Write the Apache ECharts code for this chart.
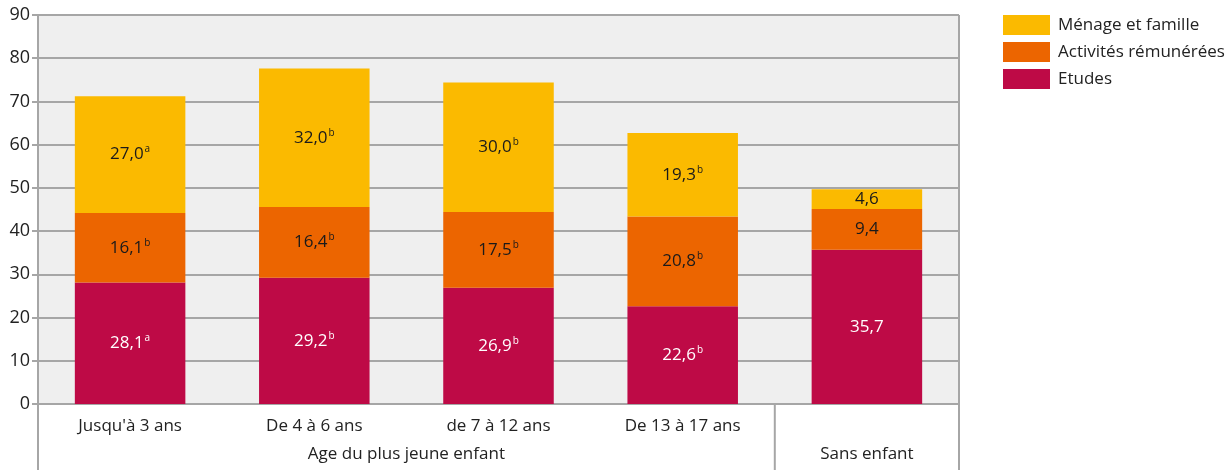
<!DOCTYPE html>
<html>
<head>
<meta charset="utf-8">
<script src="https://cdn.jsdelivr.net/npm/echarts@6/dist/echarts.min.js"></script>
<style>
  html, body { margin: 0; padding: 0; background: #fff; }
  #chart { width: 1232px; height: 475px; }
</style>
</head>
<body>
<div id="chart"></div>
<script>
'use strict';

var categories = ['Jusqu\'à 3 ans', 'De 4 à 6 ans', 'de 7 à 12 ans', 'De 13 à 17 ans', 'Sans enfant'];
var etudes = [28.1, 29.2, 26.9, 22.6, 35.7];
var activites = [16.1, 16.4, 17.5, 20.8, 9.4];
var menage = [27.0, 32.0, 30.0, 19.3, 4.6];
// lettres en exposant
var etudesSup = ['a', 'b', 'b', 'b', ''];
var activitesSup = ['b', 'b', 'b', 'b', ''];
var menageSup = ['a', 'b', 'b', 'b', ''];
var yTicks = [0, 10, 20, 30, 40, 50, 60, 70, 80, 90];
var groups = [
    { name: 'Age du plus jeune enfant', from: 0, to: 3 },
    { name: 'Sans enfant', from: 4, to: 4 }
];

var FONT = '"Open Sans", Lato, sans-serif';
var LINE = '#a6a6a6';

function fmt(v) {
    return v.toFixed(1).replace('.', ',');
}

function makeData(values, sups) {
    return values.map(function (v, i) {
        return { value: v, sup: sups[i] };
    });
}

function labelFor(sups, color) {
    return {
        show: true,
        position: 'inside',
        formatter: function (p) {
            var s = sups[p.dataIndex];
            return '{v|' + fmt(p.value) + '}' + (s ? '{s|' + s + '}' : '');
        },
        rich: {
            v: { fontSize: 17, color: color, fontFamily: FONT },
            s: { fontSize: 10, color: color, fontFamily: FONT, verticalAlign: 'top', padding: [0, 0, 10, 1] }
        }
    };
}

var chart = echarts.init(document.getElementById('chart'));

var option = {
    animation: false,
    textStyle: { fontFamily: FONT },
    grid: {
        left: 38,
        right: 273,
        top: 15,
        bottom: 71,
        show: true,
        backgroundColor: '#efefef',
        borderWidth: 0
    },
    legend: {
        orient: 'vertical',
        left: 1003,
        top: 15,
        padding: 0,
        itemWidth: 47,
        itemHeight: 20,
        itemGap: 7,
        icon: 'rect',
        data: ['Ménage et famille', 'Activités rémunérées', 'Etudes'],
        textStyle: { fontSize: 17, color: '#222', fontFamily: FONT, padding: [0, 0, 0, 3] }
    },
    xAxis: {
        type: 'category',
        data: categories,
        axisLine: { show: true, lineStyle: { color: LINE, width: 2 } },
        axisTick: { show: false },
        axisLabel: {
            fontSize: 17, color: '#222', margin: 14, fontFamily: FONT,
            // la catégorie seule est nommée par son groupe
            formatter: function (v) {
                return groups.some(function (g) { return g.name === v; }) ? '' : v;
            }
        }
    },
    yAxis: {
        type: 'value',
        min: yTicks[0],
        max: yTicks[yTicks.length - 1],
        interval: 10,
        axisLine: { show: false },
        axisTick: { show: true, length: 6, lineStyle: { color: LINE, width: 2 } },
        axisLabel: { fontSize: 18, color: '#222', margin: 8, fontFamily: FONT },
        splitLine: { show: true, lineStyle: { color: LINE, width: 2 } }
    },
    series: [
        {
            name: 'Etudes', type: 'bar', stack: 'tot', barWidth: '60%',
            itemStyle: { color: '#be0a46' },
            label: labelFor(etudesSup, '#ffffff'),
            data: makeData(etudes, etudesSup)
        },
        {
            name: 'Activités rémunérées', type: 'bar', stack: 'tot', barWidth: '60%',
            itemStyle: { color: '#ec6500' },
            label: labelFor(activitesSup, '#1a1a1a'),
            data: makeData(activites, activitesSup)
        },
        {
            name: 'Ménage et famille', type: 'bar', stack: 'tot', barWidth: '60%',
            itemStyle: { color: '#fbba00' },
            label: labelFor(menageSup, '#1a1a1a'),
            data: makeData(menage, menageSup)
        }
    ]
};

chart.setOption(option);

// lignes de séparation et libellés de groupes sous l'axe
function drawGroups() {
    var top = chart.convertToPixel({ yAxisIndex: 0 }, yTicks[yTicks.length - 1]);
    var base = chart.convertToPixel({ yAxisIndex: 0 }, 0);
    var c0 = chart.convertToPixel({ xAxisIndex: 0 }, 0);
    var c1 = chart.convertToPixel({ xAxisIndex: 0 }, 1);
    var step = c1 - c0;
    var bottom = base + 66;
    var els = [];

    function vline(x, y1, y2) {
        els.push({
            type: 'line',
            shape: { x1: x, y1: y1, x2: x, y2: y2 },
            style: { stroke: LINE, lineWidth: 2 },
            z: 10
        });
    }

    var left = c0 - step / 2;
    var right = chart.convertToPixel({ xAxisIndex: 0 }, categories.length - 1) + step / 2;
    vline(left, top, bottom);
    vline(right, top, bottom);

    groups.forEach(function (g, i) {
        var x1 = c0 + (g.from - 0.5) * step;
        var x2 = c0 + (g.to + 0.5) * step;
        if (i > 0) vline(x1, base, bottom);
        els.push({
            type: 'text',
            x: (x1 + x2) / 2,
            y: base + 50,
            style: {
                text: g.name,
                fill: '#222',
                fontSize: 17,
                fontFamily: FONT,
                align: 'center',
                verticalAlign: 'middle'
            },
            z: 10
        });
    });

    chart.setOption({ graphic: els });
}

drawGroups();
</script>
</body>
</html>
